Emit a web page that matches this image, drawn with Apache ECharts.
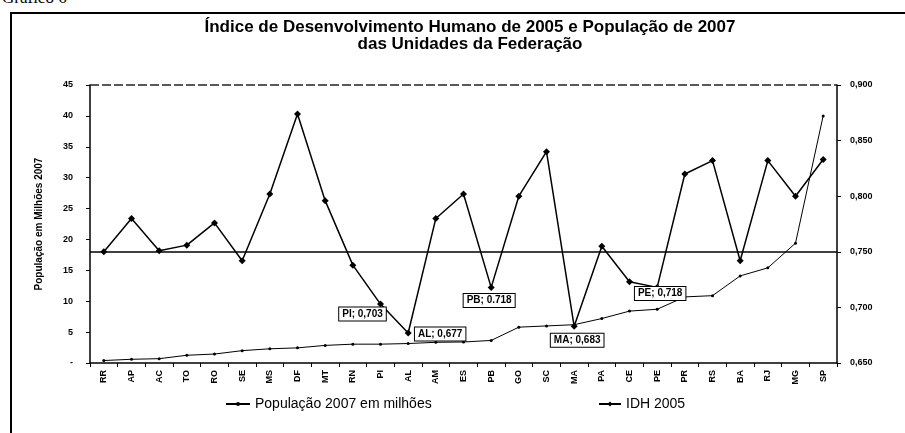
<!DOCTYPE html>
<html>
<head>
<meta charset="utf-8">
<script src="https://cdn.jsdelivr.net/npm/echarts@6/dist/echarts.min.js"></script>
<style>
  html, body { margin: 0; padding: 0; background: #fff; }
  #wrap { position: relative; width: 905px; height: 433px; overflow: hidden; }
  #frame { position: absolute; left: 10px; top: 12px; width: 1000px; height: 500px;
           border-left: 2px solid #000; border-top: 2px solid #000; }
  #cap { position: absolute; left: 2px; top: -12px; font: 17px "Liberation Serif", serif; color: #000; }
  #chart { position: absolute; left: 0; top: 0; width: 905px; height: 433px; }
</style>
</head>
<body>
<div id="wrap">
  <div id="cap">Gráfico 6</div>
  <div id="frame"></div>
  <div id="chart"></div>
</div>
<script>
// unidades da federação, ordenadas pela população
var ufs = ["RR", "AP", "AC", "TO", "RO", "SE", "MS", "DF", "MT", "RN", "PI", "AL", "AM", "ES",
  "PB", "GO", "SC", "MA", "PA", "CE", "PE", "PR", "RS", "BA", "RJ", "MG", "SP"];
// população 2007 em milhões
var populacao = [0.4, 0.6, 0.7, 1.25, 1.45, 2.0, 2.3, 2.45, 2.85, 3.05, 3.05, 3.15, 3.35, 3.4,
  3.65, 5.8, 6.0, 6.2, 7.2, 8.4, 8.7, 10.7, 10.9, 14.1, 15.4, 19.4, 40.0];
// IDH 2005
var idh = [0.750, 0.780, 0.751, 0.756, 0.776, 0.742, 0.802, 0.874, 0.796, 0.738, 0.703, 0.677, 0.780, 0.802,
  0.718, 0.800, 0.840, 0.683, 0.755, 0.723, 0.718, 0.820, 0.832, 0.742, 0.832, 0.800, 0.833];
// rótulos destacados: uf -> [texto, dx, dy]
var destaques = {
  "PI": ["PI; 0,703", -18, 10],
  "AL": ["AL; 0,677", 32, 1],
  "PB": ["PB; 0.718", -2, 13],
  "MA": ["MA; 0,683", 3, 14],
  "PE": ["PE; 0,718", 3, 6]
};
var mediaIdh = 0.75;

var fonte = "Liberation Sans, Arial, sans-serif";
var chart = echarts.init(document.getElementById("chart"));

var idhData = [];
for (var i = 0; i < idh.length; i++) {
  var d = destaques[ufs[i]];
  if (d) {
    idhData.push({
      value: idh[i],
      label: {
        show: true,
        position: "inside",
        offset: [d[1], d[2]],
        formatter: d[0],
        color: "#000",
        fontFamily: fonte,
        fontWeight: "bold",
        fontSize: 10,
        backgroundColor: "#fff",
        borderColor: "#000",
        borderWidth: 1,
        padding: [2, 3, 1, 3]
      }
    });
  } else {
    idhData.push(idh[i]);
  }
}

chart.setOption({
  animation: false,
  title: {
    text: "Índice de Desenvolvimento Humano de 2005 e População de 2007\ndas Unidades da Federação",
    left: 465,
    textAlign: "center",
    top: 14,
    textStyle: {
      fontFamily: fonte,
      fontWeight: "bold",
      fontSize: 17,
      lineHeight: 17,
      color: "#000"
    }
  },
  legend: [
    {
      data: ["População 2007 em milhões"],
      left: 220,
      top: 392,
      itemWidth: 24,
      itemHeight: 5,
      itemGap: 4,
      textStyle: { fontFamily: fonte, fontSize: 14, color: "#000" }
    },
    {
      data: ["IDH 2005"],
      left: 593,
      top: 392,
      itemWidth: 22,
      itemHeight: 6,
      textStyle: { fontFamily: fonte, fontSize: 14, color: "#000" }
    }
  ],
  grid: { left: 90, right: 68, top: 85, bottom: 70 },
  xAxis: {
    type: "category",
    data: ufs,
    boundaryGap: true,
    axisLine: { lineStyle: { color: "#000", width: 1.5 } },
    axisTick: { show: true, length: 4, lineStyle: { color: "#000" } },
    axisLabel: {
      rotate: 90,
      color: "#000",
      fontFamily: fonte,
      fontWeight: "bold",
      fontSize: 9,
      margin: 7
    }
  },
  yAxis: [
    {
      type: "value",
      min: 0,
      max: 45,
      interval: 5,
      name: "População em Milhões 2007",
      nameLocation: "middle",
      nameGap: 46,
      nameTextStyle: { fontFamily: fonte, fontWeight: "bold", fontSize: 10, color: "#000" },
      axisLine: { show: true, lineStyle: { color: "#000", width: 1.5 } },
      axisTick: { show: true, length: 4, lineStyle: { color: "#000" } },
      splitLine: { show: false },
      axisLabel: {
        color: "#000",
        fontFamily: fonte,
        fontWeight: "bold",
        fontSize: 9,
        margin: 17,
        formatter: function (v) { return v === 0 ? "-" : v; }
      }
    },
    {
      type: "value",
      min: 0.65,
      max: 0.9,
      interval: 0.05,
      position: "right",
      axisLine: { show: true, lineStyle: { color: "#000", width: 1.5 } },
      axisTick: { show: true, length: 4, lineStyle: { color: "#000" } },
      splitLine: { show: false },
      axisLabel: {
        color: "#000",
        fontFamily: fonte,
        fontWeight: "bold",
        fontSize: 9,
        margin: 13,
        formatter: function (v) { return v.toFixed(3).replace(".", ","); }
      }
    }
  ],
  series: [
    {
      name: "População 2007 em milhões",
      type: "line",
      yAxisIndex: 0,
      data: populacao,
      symbol: "circle",
      symbolSize: 3,
      itemStyle: { color: "#000" },
      lineStyle: { color: "#000", width: 1 },
      markLine: {
        silent: true,
        symbol: "none",
        label: { show: false },
        lineStyle: { color: "#222", width: 1.5, type: [9, 3] },
        data: [{ yAxis: 45 }]
      }
    },
    {
      name: "IDH 2005",
      type: "line",
      yAxisIndex: 1,
      data: idhData,
      symbol: "diamond",
      symbolSize: 7,
      itemStyle: { color: "#000" },
      lineStyle: { color: "#000", width: 1.5 },
      markLine: {
        silent: true,
        symbol: "none",
        label: { show: false },
        lineStyle: { color: "#000", width: 1.5, type: "solid" },
        data: [{ yAxis: mediaIdh }]
      }
    }
  ]
});
</script>
</body>
</html>
